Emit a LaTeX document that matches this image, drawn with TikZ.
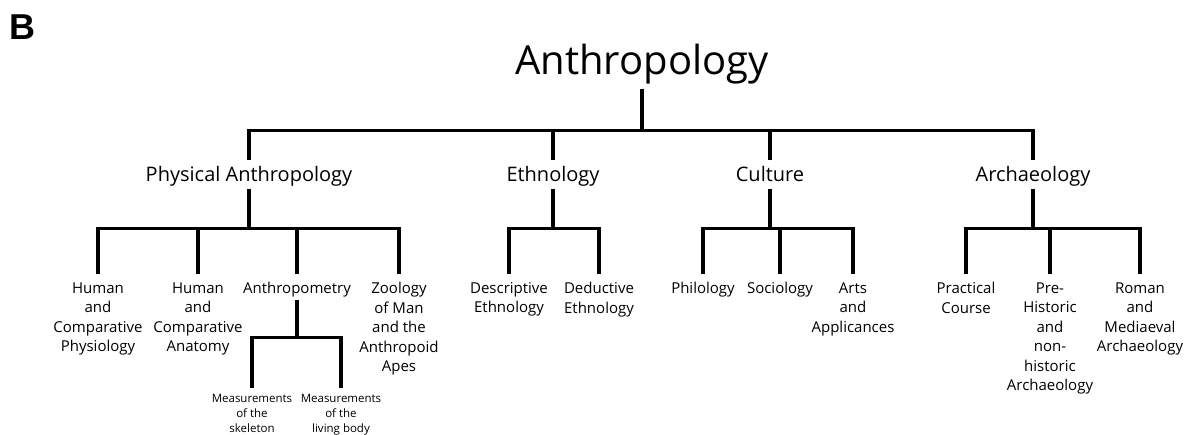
\documentclass[tikz,border=0pt]{standalone}
\usepackage{fontspec}
\setmainfont{Open Sans}
\newfontfamily\panelfont{Liberation Sans}
\begin{document}
\begin{tikzpicture}[x=1pt, y=-1pt, line width=3.6pt,
    root/.style={font=\fontsize{40}{44}\selectfont, inner sep=3pt, anchor=base},
    field/.style={font=\fontsize{20}{24}\selectfont, inner sep=5pt, text depth=0pt, anchor=base},
    leaf/.style={font=\fontsize{15}{19.5}\selectfont, align=center, inner xsep=0pt, inner ysep=6pt, anchor=north},
    subleaf/.style={font=\fontsize{11.5}{15}\selectfont, align=center, inner xsep=0pt, inner ysep=4pt, anchor=north}]
    \useasboundingbox (0,0) rectangle (1188,435);
    \node[font=\panelfont\bfseries\fontsize{36}{40}\selectfont, anchor=base west, inner sep=0pt] (panel) at (7.5,39.3) {B};
    \node[root] (anth) at (642,74.3) {Anthropology};
    \coordinate (bar0) at (0,130.5);
    \coordinate (bar1) at (0,228.5);
    \coordinate (bar2) at (0,337.5);
    \node[field] (phys) at (249,182) {Physical Anthropology};
    \node[field] (ethn) at (553,182) {Ethnology};
    \node[field] (cult) at (770,182) {Culture};
    \node[field] (arch) at (1033,182) {Archaeology};
    \node[leaf] (hphy) at (98,274.5) {Human\\and\\Comparative\\Physiology};
    \node[leaf] (hana) at (198,274.5) {Human\\and\\Comparative\\Anatomy};
    \node[leaf] (anpm) at (297,274.5) {Anthropometry};
    \node[leaf] (zool) at (399,274.5) {Zoology\\of Man\\and the\\Anthropoid\\Apes};
    \node[leaf] (desc) at (509,274.5) {Descriptive\\Ethnology};
    \node[leaf] (dedu) at (599,274.5) {Deductive\\Ethnology};
    \node[leaf] (phil) at (703,274.5) {Philology};
    \node[leaf] (soci) at (780,274.5) {Sociology};
    \node[leaf] (arts) at (853,274.5) {Arts\\and\\Applicances};
    \node[leaf] (prac) at (966,274.5) {Practical\\Course};
    \node[leaf] (preh) at (1050,274.5) {Pre-\\Historic\\and\\non-\\historic\\Archaeology};
    \node[leaf] (roma) at (1140,274.5) {Roman\\and\\Mediaeval\\Archaeology};
    \node[subleaf] (skel) at (252,388) {Measurements\\of the\\skeleton};
    \node[subleaf] (body) at (341,388) {Measurements\\of the\\living body};
    \foreach \c in {phys,ethn,cult,arch}
        \draw (anth.south) -- (anth.south |- bar0) -| (\c.north);
    \foreach \p/\c in {phys/hphy, phys/hana, phys/anpm, phys/zool, ethn/desc, ethn/dedu,
                       cult/phil, cult/soci, cult/arts, arch/prac, arch/preh, arch/roma}
        \draw (\p.south) -- (\p.south |- bar1) -| (\c.north);
    \foreach \c in {skel,body}
        \draw[shorten <=-5.5pt] (anpm.south) -- (anpm.south |- bar2) -| (\c.north);
\end{tikzpicture}
\end{document}
